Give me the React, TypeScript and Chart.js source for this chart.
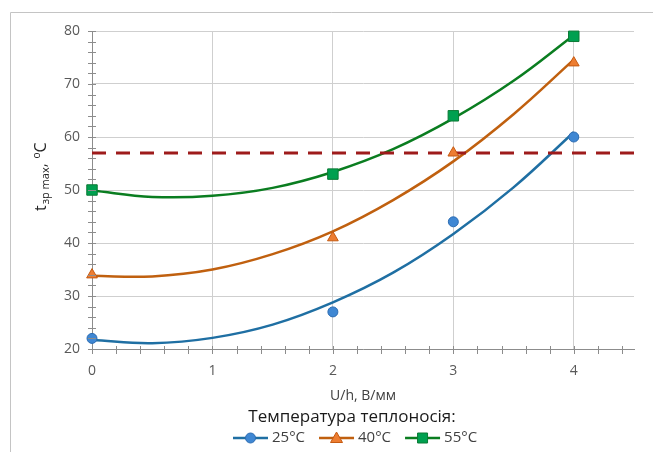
import React, { useEffect, useRef } from "react";
import { Chart, registerables } from "chart.js";

Chart.register(...registerables);

// Measured points
const xPoints = [0, 2, 3, 4];
const t25 = [22, 27, 44, 60];
const t40 = [34, 41, 57, 74];
const t55 = [50, 53, 64, 79];

// Trendline values
const trendX = [0, 0.5, 1, 1.5, 2, 2.5, 3, 3.5, 4];
const trend25 = [21.7, 21.1, 22.1, 24.6, 28.8, 34.4, 41.7, 50.5, 60.9];
const trend40 = [33.8, 33.7, 35.0, 37.9, 42.2, 48.1, 55.4, 64.3, 74.6];
const trend55 = [49.9, 48.7, 48.9, 50.4, 53.4, 57.7, 63.5, 70.6, 79.2];

// Limit line
const limitX = [0, 4.5];
const limitY = [57, 57];

const xTicks = [0, 1, 2, 3, 4];
const seriesLabels = ["25°C", "40°C", "55°C"];
const legendTitle = "Температура теплоносія:";
const xTitle = "U/h, В/мм";

const FONT = "'Open Sans', sans-serif";

const colors = [
  { fill: "#3f87d3", border: "#2c6cb2", line: "#1f6fa3", style: "circle" },
  { fill: "#ed7d31", border: "#c55a11", line: "#c0600f", style: "triangle" },
  { fill: "#00a050", border: "#0b7a35", line: "#0a7d20", style: "rect" },
];

const pts = (xs: number[], ys: number[]) => xs.map((x, i) => ({ x, y: ys[i] }));

function drawMarker(ctx: CanvasRenderingContext2D, style: string, x: number, y: number, fill: string, border: string) {
  ctx.save();
  ctx.fillStyle = fill;
  ctx.strokeStyle = border;
  ctx.lineWidth = 1;
  ctx.beginPath();
  if (style === "circle") {
    ctx.arc(x, y, 5, 0, Math.PI * 2);
  } else if (style === "triangle") {
    ctx.moveTo(x, y - 6);
    ctx.lineTo(x + 6, y + 4.5);
    ctx.lineTo(x - 6, y + 4.5);
    ctx.closePath();
  } else {
    ctx.rect(x - 5, y - 5, 10, 10);
  }
  ctx.fill();
  ctx.stroke();
  ctx.restore();
}

const decorPlugin = {
  id: "decor",
  beforeDraw(chart: any) {
    const ctx = chart.ctx as CanvasRenderingContext2D;
    ctx.save();
    ctx.strokeStyle = "#c4c4c4";
    ctx.lineWidth = 1;
    ctx.beginPath();
    ctx.moveTo(10.5, 452);
    ctx.lineTo(10.5, 12.5);
    ctx.lineTo(653, 12.5);
    ctx.stroke();
    ctx.restore();
  },
  afterDraw(chart: any) {
    const ctx = chart.ctx as CanvasRenderingContext2D;
    const xs = chart.scales.x;
    const ys = chart.scales.y;
    const x0 = xs.getPixelForValue(0);
    const y0 = ys.getPixelForValue(20);
    ctx.save();
    ctx.strokeStyle = "#8c8c8c";
    ctx.lineWidth = 1;
    ctx.beginPath();
    for (let v = 20; v <= 80; v += 2) {
      const py = Math.round(ys.getPixelForValue(v)) + 0.5;
      ctx.moveTo(Math.round(x0) - 4, py);
      ctx.lineTo(Math.round(x0) + 4, py);
    }
    for (let i = 0; i <= 22; i++) {
      const px = Math.round(xs.getPixelForValue(i * 0.2)) + 0.5;
      ctx.moveTo(px, Math.round(y0) - 3);
      ctx.lineTo(px, Math.round(y0) + 5);
    }
    ctx.stroke();
    ctx.restore();

    // Y axis title
    ctx.save();
    ctx.fillStyle = "#262626";
    ctx.translate(46, 211);
    ctx.rotate(-Math.PI / 2);
    ctx.textBaseline = "alphabetic";
    ctx.textAlign = "left";
    let cx = 0;
    ctx.font = `16px ${FONT}`;
    ctx.fillText("t", cx, 0);
    cx += ctx.measureText("t").width + 1;
    ctx.font = `11px ${FONT}`;
    ctx.fillText("зр max", cx, 3);
    cx += ctx.measureText("зр max").width;
    ctx.font = `15px ${FONT}`;
    ctx.fillText(", ", cx, 0);
    cx += ctx.measureText(", ").width + 1;
    ctx.font = `10px ${FONT}`;
    ctx.fillText("o", cx, -6);
    cx += ctx.measureText("o").width;
    ctx.font = `16px ${FONT}`;
    ctx.fillText("C", cx, 0);
    ctx.restore();

    // X axis title
    ctx.save();
    ctx.fillStyle = "#404040";
    ctx.font = `14px ${FONT}`;
    ctx.textAlign = "center";
    ctx.textBaseline = "middle";
    ctx.fillText(xTitle, (xs.left + xs.right) / 2, 396);
    // Legend title
    ctx.fillStyle = "#1a1a1a";
    ctx.font = `17px ${FONT}`;
    ctx.fillText(legendTitle, 352, 417);
    ctx.restore();

    // Legend items
    ctx.save();
    ctx.font = `15px ${FONT}`;
    ctx.textBaseline = "middle";
    ctx.textAlign = "left";
    let lx = 233;
    const ly = 438;
    seriesLabels.forEach((lab, i) => {
      const c = colors[i];
      ctx.strokeStyle = c.line;
      ctx.lineWidth = 2.5;
      ctx.beginPath();
      ctx.moveTo(lx, ly);
      ctx.lineTo(lx + 35, ly);
      ctx.stroke();
      drawMarker(ctx, c.style, lx + 17.5, ly, c.fill, c.border);
      ctx.fillStyle = "#404040";
      ctx.fillText(lab, lx + 39, ly);
      lx += 39 + ctx.measureText(lab).width + 14;
    });
    ctx.restore();
  },
};

export default function App() {
  const ref = useRef<HTMLCanvasElement | null>(null);
  useEffect(() => {
    if (!ref.current) return;
    const pointSets = [t25, t40, t55].map((ys, i) => ({
      label: seriesLabels[i],
      data: pts(xPoints, ys),
      showLine: false,
      clip: false,
      pointStyle: colors[i].style,
      pointRadius: colors[i].style === "circle" ? 5 : colors[i].style === "triangle" ? 6.2 : 7.4,
      pointBackgroundColor: colors[i].fill,
      pointBorderColor: colors[i].border,
      pointBorderWidth: 1,
    }));
    const trendSets = [trend25, trend40, trend55].map((ys, i) => ({
      label: "trend " + seriesLabels[i],
      data: pts(trendX, ys),
      showLine: true,
      borderColor: colors[i].line,
      borderWidth: 2.5,
      pointRadius: 0,
      tension: 0.4,
      fill: false,
    }));
    const limitSet = {
      label: "limit",
      data: pts(limitX, limitY),
      showLine: true,
      borderColor: "#9e1b1b",
      borderWidth: 3,
      borderDash: [14, 10],
      pointRadius: 0,
      fill: false,
    };
    const chart = new Chart(ref.current, {
      type: "scatter",
      data: { datasets: [...pointSets, limitSet, ...trendSets] as any },
      options: {
        responsive: false,
        devicePixelRatio: 1,
        animation: false,
        layout: { padding: { top: 31, right: 19, left: 0, bottom: 0 } },
        plugins: { legend: { display: false }, tooltip: { enabled: false } },
        scales: {
          x: {
            type: "linear",
            min: 0,
            max: 4.5,
            afterBuildTicks: (s: any) => {
              s.ticks = xTicks.map((v) => ({ value: v }));
            },
            afterFit: (s: any) => {
              s.height = 103;
            },
            grid: { color: "#cfcfcf", drawTicks: false, lineWidth: 1 },
            border: { display: true, color: "#8c8c8c" },
            ticks: { padding: 14, color: "#595959", font: { family: FONT, size: 14 } },
          },
          y: {
            type: "linear",
            min: 20,
            max: 80,
            ticks: { stepSize: 10, padding: 12, color: "#595959", font: { family: FONT, size: 14 } },
            afterFit: (s: any) => {
              s.width = 92;
            },
            grid: { color: "#cfcfcf", drawTicks: false, lineWidth: 1 },
            border: { display: true, color: "#8c8c8c" },
          },
        },
      },
      plugins: [decorPlugin],
    });
    return () => chart.destroy();
  }, []);
  return (
    <div style={{ position: "fixed", left: 0, top: 0, width: 653, height: 452, background: "#fff" }}>
      <canvas ref={ref} width={653} height={452} style={{ width: 653, height: 452, display: "block" }} />
    </div>
  );
}
